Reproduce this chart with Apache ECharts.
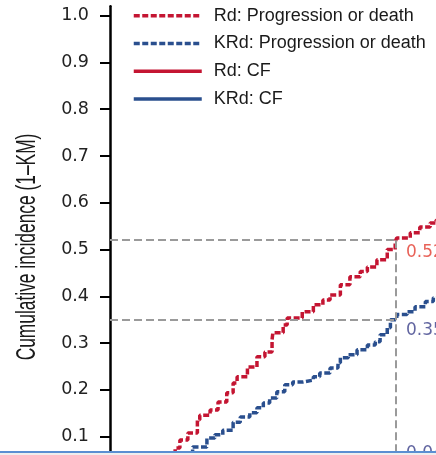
<!DOCTYPE html>
<html>
<head>
<meta charset="utf-8">
<script src="https://cdn.jsdelivr.net/npm/echarts@6/dist/echarts.min.js"></script>
<style>
html,body{margin:0;padding:0;background:#fff;}
#chart{width:436px;height:455px;}
</style>
</head>
<body>
<div id="chart"></div>
<script>
// ---- data (months, cumulative incidence) ----
const seriesNames = ['Rd: Progression or death', 'KRd: Progression or death', 'Rd: CF', 'KRd: CF'];

const rdPDMonths = [0, 8.2, 8.8, 9.8, 11.0, 11.3, 12.6, 13.6, 14.7, 15.5, 16.0, 17.3, 18.5, 19.5, 20.4, 20.5, 21.8, 22.3, 24.2, 25.6, 26.8, 27.7, 29.0, 30.2, 31.5, 32.4, 33.6, 34.9, 35.9, 36.1, 37.8, 39.0, 40.3, 41.0, 44];
const rdPDValues = [0, 0.076, 0.093, 0.108, 0.136, 0.146, 0.157, 0.174, 0.194, 0.215, 0.228, 0.249, 0.271, 0.281, 0.307, 0.322, 0.339, 0.354, 0.367, 0.382, 0.392, 0.403, 0.425, 0.442, 0.453, 0.463, 0.478, 0.500, 0.517, 0.525, 0.536, 0.548, 0.557, 0.562, 0.58];

const krdPDMonths = [0, 10.4, 12.2, 13.2, 14.2, 15.5, 16.4, 17.6, 18.5, 19.3, 20.1, 21.0, 22.0, 23.0, 24.3, 25.6, 26.4, 27.7, 28.7, 29.0, 30.0, 31.1, 32.4, 33.4, 34.0, 34.9, 35.3, 36.1, 37.4, 38.4, 39.7, 40.7, 41.0, 44];
const krdPDValues = [0, 0.078, 0.097, 0.104, 0.114, 0.131, 0.142, 0.151, 0.162, 0.172, 0.183, 0.196, 0.211, 0.217, 0.221, 0.228, 0.236, 0.247, 0.258, 0.269, 0.275, 0.286, 0.296, 0.303, 0.318, 0.333, 0.350, 0.361, 0.367, 0.378, 0.389, 0.397, 0.399, 0.41];

const cfMonths = [0, 6, 12, 18, 24, 30, 36, 42];
const rdCFValues = [0, 0.005, 0.01, 0.02, 0.03, 0.04, 0.05, 0.055];
const krdCFValues = [0, 0.005, 0.01, 0.015, 0.022, 0.03, 0.04, 0.045];

const refMonth = 36;
const refValues = [0.52, 0.35, 0.04];
const refLabels = ['0.52', '0.35', '0.04'];

const yTickValues = [0.1, 0.2, 0.3, 0.4, 0.5, 0.6, 0.7, 0.8, 0.9, 1.0];
const yTitle = 'Cumulative incidence (1\u2013KM)';

// ---- styles ----
const RED = '#c41532';
const BLUE = '#2a4f8e';
const zip = (xs, ys) => xs.map((x, i) => [x, ys[i]]);

const chart = echarts.init(document.getElementById('chart'), null, {renderer: 'canvas'});

const refLabelColors = ['#e23b2e', '#3a3f88', '#3a3f88'];
const refLabelOffsets = [[0, 12], [0, 11], [0, -11]];

chart.setOption({
  animation: false,
  backgroundColor: '#ffffff',
  grid: {left: 110, top: 6.3, right: -55.3, bottom: -28.5, containLabel: false, outerBoundsMode: 'none'},
  legend: {
    orient: 'vertical', left: 132, top: 5.8, padding: 0,
    itemWidth: 68, itemHeight: 20, itemGap: 7.7,
    data: seriesNames,
    itemStyle: {opacity: 0},
    lineStyle: {width: 3.5},
    textStyle: {fontFamily: "'Liberation Sans', Arial, sans-serif", fontSize: 18, color: '#1a1a1a', padding: [0, 0, 0, 7], lineHeight: 20},
    selectedMode: false
  },
  xAxis: {type: 'value', min: 0, max: 48, show: false},
  yAxis: {
    type: 'value', min: 0, max: 1.02,
    axisLine: {show: true, lineStyle: {color: '#000', width: 2.5}},
    axisTick: {show: true, inside: false, length: 10, lineStyle: {color: '#000', width: 2}, customValues: yTickValues},
    axisLabel: {margin: 21, fontFamily: "'DejaVu Sans', sans-serif", fontSize: 17.5, color: '#222',
      customValues: yTickValues, formatter: v => v.toFixed(1)},
    splitLine: {show: false}
  },
  series: [
    {
      name: seriesNames[0], type: 'line', step: 'end', symbol: 'none',
      data: zip(rdPDMonths, rdPDValues),
      lineStyle: {color: RED, width: 3.5, type: [6, 2.5]}, itemStyle: {color: RED}, z: 3,
      markLine: {
        silent: true, symbol: 'none', label: {show: false},
        lineStyle: {color: '#9a9a9a', width: 2, type: [8, 4]},
        data: [
          [{coord: [0, refValues[0]]}, {coord: [refMonth, refValues[0]]}],
          [{coord: [0, refValues[1]]}, {coord: [refMonth, refValues[1]]}],
          [{coord: [refMonth, refValues[0]]}, {coord: [refMonth, 0]}]
        ]
      }
    },
    {
      name: seriesNames[1], type: 'line', step: 'end', symbol: 'none',
      data: zip(krdPDMonths, krdPDValues),
      lineStyle: {color: BLUE, width: 3.5, type: [6, 2.5]}, itemStyle: {color: BLUE}, z: 3
    },
    {
      name: seriesNames[2], type: 'line', step: 'end', symbol: 'none',
      data: zip(cfMonths, rdCFValues),
      lineStyle: {color: RED, width: 3.5, type: 'solid'}, itemStyle: {color: RED}
    },
    {
      name: seriesNames[3], type: 'line', step: 'end', symbol: 'none',
      data: zip(cfMonths, krdCFValues),
      lineStyle: {color: BLUE, width: 3.5, type: 'solid'}, itemStyle: {color: BLUE}
    },
    {
      name: 'labels', type: 'scatter', symbolSize: 0, silent: true, z: 5,
      data: refValues.map((v, i) => ({
        value: [refMonth, v],
        label: {show: true, position: 'right', distance: 10, offset: refLabelOffsets[i],
          formatter: refLabels[i], color: refLabelColors[i],
          fontFamily: "'DejaVu Sans', sans-serif", fontSize: 17}
      }))
    }
  ],
  graphic: [
    {type: 'text', x: 27, y: 247, rotation: Math.PI / 2, scaleX: 0.62, scaleY: 1,
      style: {text: yTitle, fill: '#1a1a1a', font: "28px 'Liberation Sans', Arial, sans-serif",
        align: 'center', verticalAlign: 'middle'}},
    {type: 'rect', left: 0, top: 451, shape: {width: 436, height: 2}, style: {fill: '#5b8fd2'}, z: 100},
    {type: 'rect', left: 0, top: 453, shape: {width: 436, height: 2}, style: {fill: '#eeeeee'}, z: 100}
  ]
});
</script>
</body>
</html>
